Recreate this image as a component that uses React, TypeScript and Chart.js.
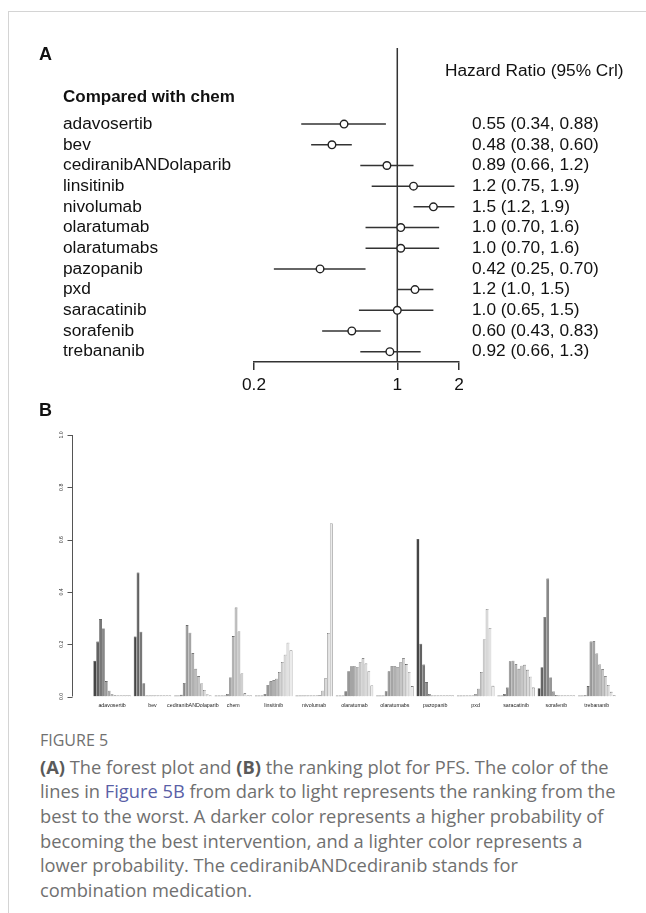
import React, { useEffect, useRef } from "react";
import { Chart, registerables } from "chart.js";

Chart.register(...registerables);

// ---------- Panel A: forest plot data ----------
const forestDrugs = [
  "adavosertib", "bev", "cediranibANDolaparib", "linsitinib", "nivolumab", "olaratumab",
  "olaratumabs", "pazopanib", "pxd", "saracatinib", "sorafenib", "trebananib",
];
const hazardRatio = [0.55, 0.48, 0.89, 1.2, 1.5, 1.04, 1.04, 0.42, 1.22, 1.0, 0.6, 0.92];
const lowerCrI = [0.34, 0.38, 0.66, 0.75, 1.2, 0.7, 0.7, 0.25, 1.0, 0.65, 0.43, 0.66];
const upperCrI = [0.88, 0.6, 1.2, 1.9, 1.9, 1.6, 1.6, 0.7, 1.5, 1.5, 0.83, 1.3];
const hrLabels = [
  "0.55 (0.34, 0.88)", "0.48 (0.38, 0.60)", "0.89 (0.66, 1.2)", "1.2 (0.75, 1.9)",
  "1.5 (1.2, 1.9)", "1.0 (0.70, 1.6)", "1.0 (0.70, 1.6)", "0.42 (0.25, 0.70)",
  "1.2 (1.0, 1.5)", "1.0 (0.65, 1.5)", "0.60 (0.43, 0.83)", "0.92 (0.66, 1.3)",
];
const forestTicks = [0.2, 1, 2];
const referenceHR = 1;

// ---------- Panel B: ranking probabilities (rank 1..13) ----------
const rankDrugs = [
  "adavosertib", "bev", "cediranibANDolaparib", "chem", "linsitinib", "nivolumab",
  "olaratumab", "olaratumabs", "pazopanib", "pxd", "saracatinib", "sorafenib", "trebananib",
];
const adavosertib = [0.137, 0.21, 0.296, 0.26, 0.059, 0.022, 0.009, 0.005, 0.003, 0.002, 0.001, 0.001, 0.001];
const bev = [0.229, 0.474, 0.248, 0.051, 0.002, 0, 0, 0, 0, 0, 0, 0, 0];
const cediranibANDolaparib = [0, 0.002, 0.007, 0.052, 0.273, 0.244, 0.166, 0.106, 0.078, 0.05, 0.025, 0.008, 0.002];
const chem = [0, 0, 0, 0, 0.01, 0.073, 0.231, 0.34, 0.249, 0.088, 0.012, 0.002, 0];
const linsitinib = [0, 0.001, 0.003, 0.01, 0.044, 0.058, 0.062, 0.068, 0.094, 0.132, 0.16, 0.206, 0.177];
const nivolumab = [0, 0, 0, 0, 0, 0, 0.001, 0.002, 0.006, 0.022, 0.07, 0.243, 0.662];
const olaratumab = [0, 0.001, 0.003, 0.02, 0.097, 0.116, 0.116, 0.112, 0.131, 0.146, 0.126, 0.097, 0.042];
const olaratumabs = [0, 0.001, 0.003, 0.02, 0.097, 0.117, 0.117, 0.113, 0.131, 0.146, 0.124, 0.093, 0.04];
const pazopanib = [0.602, 0.202, 0.122, 0.055, 0.01, 0.004, 0.002, 0.001, 0.001, 0.001, 0, 0, 0];
const pxd = [0, 0, 0, 0, 0.001, 0.003, 0.01, 0.03, 0.094, 0.218, 0.335, 0.262, 0.041];
const saracatinib = [0.001, 0.003, 0.01, 0.034, 0.135, 0.137, 0.123, 0.106, 0.118, 0.121, 0.102, 0.076, 0.034];
const sorafenib = [0.032, 0.112, 0.304, 0.451, 0.073, 0.019, 0.006, 0.002, 0.001, 0, 0, 0, 0];
const trebananib = [0, 0.001, 0.005, 0.04, 0.21, 0.211, 0.164, 0.122, 0.104, 0.077, 0.044, 0.018, 0.005];
const rankProbs = [
  adavosertib, bev, cediranibANDolaparib, chem, linsitinib, nivolumab,
  olaratumab, olaratumabs, pazopanib, pxd, saracatinib, sorafenib, trebananib,
];
const probTicks = [0, 0.2, 0.4, 0.6, 0.8, 1.0];

// R gray.colors(13)-like ramp: dark (best) -> light (worst)
const nRanks = 13;
const g0 = Math.pow(0.27, 2.2);
const g1 = Math.pow(0.92, 2.2);
const rankColors = Array.from({ length: nRanks }, (_, i) => {
  const lv = Math.round(255 * Math.pow(g0 + ((g1 - g0) * i) / (nRanks - 1), 1 / 2.2));
  return `rgb(${lv},${lv},${lv})`;
});

const FONT = '"Liberation Sans", Arial, sans-serif';
const Y_MIN = -3.68;
const Y_MAX = 11.5;

const forestTextPlugin = {
  id: "forestText",
  afterDraw(chart: any) {
    const ctx = chart.ctx;
    const y = chart.scales.y;
    ctx.save();
    ctx.fillStyle = "#111";
    ctx.textBaseline = "middle";
    ctx.textAlign = "left";
    ctx.font = `bold 18px ${FONT}`;
    ctx.fillText("A", 39, 35);
    ctx.font = `bold 17px ${FONT}`;
    ctx.fillText("Compared with chem", 63, 77);
    ctx.font = `17.3px ${FONT}`;
    ctx.fillText("Hazard Ratio (95% Crl)", 445, 51);
    forestDrugs.forEach((d, i) => {
      const py = y.getPixelForValue(i);
      ctx.fillText(d, 63, py);
      ctx.fillText(hrLabels[i], 472, py);
    });
    ctx.restore();
  },
};

const rankAxisPlugin = {
  id: "rankAxis",
  afterDraw(chart: any) {
    const ctx = chart.ctx;
    const y = chart.scales.y;
    const ax = 72.5;
    ctx.save();
    ctx.strokeStyle = "#555";
    ctx.lineWidth = 1;
    ctx.beginPath();
    ctx.moveTo(ax, y.getPixelForValue(0));
    ctx.lineTo(ax, y.getPixelForValue(1));
    probTicks.forEach((v) => {
      const py = Math.round(y.getPixelForValue(v)) + 0.5;
      ctx.moveTo(ax, py);
      ctx.lineTo(ax - 5, py);
    });
    ctx.stroke();
    ctx.fillStyle = "#333";
    ctx.font = `5.2px ${FONT}`;
    ctx.textAlign = "center";
    ctx.textBaseline = "middle";
    probTicks.forEach((v) => {
      const py = y.getPixelForValue(v);
      ctx.save();
      ctx.translate(62, py);
      ctx.rotate(-Math.PI / 2);
      ctx.fillText(v.toFixed(1), 0, 0);
      ctx.restore();
    });
    ctx.fillStyle = "#111";
    ctx.font = `bold 18px ${FONT}`;
    ctx.textAlign = "left";
    ctx.fillText("B", 39, 13);
    ctx.restore();
  },
};

export default function App() {
  const aRef = useRef<HTMLCanvasElement | null>(null);
  const bRef = useRef<HTMLCanvasElement | null>(null);

  useEffect(() => {
    const forest = new Chart(aRef.current as HTMLCanvasElement, {
      type: "scatter",
      data: {
        datasets: [
          {
            type: "scatter",
            data: hazardRatio.map((v, i) => ({ x: v, y: i })),
            pointRadius: 3.8,
            pointBackgroundColor: "#fff",
            pointBorderColor: "#222",
            pointBorderWidth: 1.4,
          } as any,
          ...forestDrugs.map((_, i) => ({
            type: "line",
            data: [
              { x: lowerCrI[i], y: i },
              { x: upperCrI[i], y: i },
            ],
            borderColor: "#333",
            borderWidth: 1.5,
            pointRadius: 0,
            showLine: true,
          })),
          {
            type: "line",
            data: [
              { x: referenceHR, y: Y_MIN },
              { x: referenceHR, y: Y_MAX },
            ],
            borderColor: "#333",
            borderWidth: 1.5,
            pointRadius: 0,
            showLine: true,
          } as any,
        ],
      },
      options: {
        animation: false,
        responsive: false,
        devicePixelRatio: 1,
        events: [],
        layout: { padding: { left: 254, right: 187, top: 28, bottom: 0 } },
        plugins: { legend: { display: false }, tooltip: { enabled: false } },
        scales: {
          x: {
            type: "logarithmic",
            min: 0.2,
            max: 2,
            afterBuildTicks: (s: any) => {
              s.ticks = forestTicks.map((v) => ({ value: v }));
            },
            afterFit: (s: any) => {
              s.height = 38;
            },
            grid: { drawOnChartArea: false, drawTicks: true, tickLength: 8, color: "#333", lineWidth: 1.5 },
            border: { display: true, color: "#333", width: 1.5 },
            ticks: {
              callback: (v: any) => String(v),
              font: { family: FONT, size: 17.3 },
              color: "#111",
              padding: 5,
              autoSkip: false,
              maxRotation: 0,
            },
          },
          y: { type: "linear", display: false, min: Y_MIN, max: Y_MAX, reverse: true },
        },
      } as any,
      plugins: [forestTextPlugin],
    });

    const ranking = new Chart(bRef.current as HTMLCanvasElement, {
      type: "bar",
      data: {
        labels: rankDrugs,
        datasets: rankColors.map((c, r) => ({
          label: `Rank ${r + 1}`,
          data: rankProbs.map((p) => p[r]),
          backgroundColor: c,
          borderColor: "#333",
          borderWidth: { top: 0.6, left: 0.5, right: r === nRanks - 1 ? 0.5 : 0, bottom: 0 },
          minBarLength: 1,
          categoryPercentage: 13 / 14,
          barPercentage: 1,
        })),
      },
      options: {
        animation: false,
        responsive: false,
        devicePixelRatio: 1,
        events: [],
        layout: { padding: { left: 91.9, right: 29, top: 37, bottom: 7.5 } },
        plugins: { legend: { display: false }, tooltip: { enabled: false } },
        scales: {
          x: {
            grid: { display: false, drawTicks: false },
            border: { display: false },
            afterFit: (s: any) => {
              s.height = 16;
            },
            ticks: {
              font: { family: FONT, size: 5.3 },
              color: "#222",
              padding: 6,
              autoSkip: false,
              maxRotation: 0,
              minRotation: 0,
            },
          },
          y: { display: false, min: 0, max: 1 },
        },
      } as any,
      plugins: [rankAxisPlugin],
    });

    return () => {
      forest.destroy();
      ranking.destroy();
    };
  }, []);

  const capFont = '"Open Sans", "Noto Sans", sans-serif';
  return (
    <div style={{ position: "absolute", left: 0, top: 0, width: 646, height: 913, background: "#fff", overflow: "hidden" }}>
      <div
        style={{
          position: "absolute",
          left: 8,
          top: 11,
          width: 638,
          height: 902,
          borderTop: "1px solid #d4d4d4",
          borderLeft: "1px solid #d4d4d4",
        }}
      />
      <canvas ref={aRef} width={646} height={380} style={{ position: "absolute", left: 0, top: 20, width: 646, height: 380 }} />
      <canvas ref={bRef} width={646} height={322} style={{ position: "absolute", left: 0, top: 398, width: 646, height: 322 }} />
      <div
        style={{
          position: "absolute",
          left: 40,
          top: 729,
          fontFamily: capFont,
          fontSize: 16,
          lineHeight: "22px",
          color: "#707070",
          whiteSpace: "nowrap",
        }}
      >
        FIGURE 5
      </div>
      <div
        style={{
          position: "absolute",
          left: 40,
          top: 754.6,
          fontFamily: capFont,
          fontSize: 18.3,
          lineHeight: "24.7px",
          color: "#707070",
          whiteSpace: "nowrap",
        }}
      >
        <b style={{ color: "#5a5a5a" }}>(A)</b> The forest plot and <b style={{ color: "#5a5a5a" }}>(B)</b> the ranking plot for PFS. The color of the
        <br />
        lines in <span style={{ color: "#5a5fa6" }}>Figure 5B</span> from dark to light represents the ranking from the
        <br />
        best to the worst. A darker color represents a higher probability of
        <br />
        becoming the best intervention, and a lighter color represents a
        <br />
        lower probability. The cediranibANDcediranib stands for
        <br />
        combination medication.
      </div>
    </div>
  );
}
